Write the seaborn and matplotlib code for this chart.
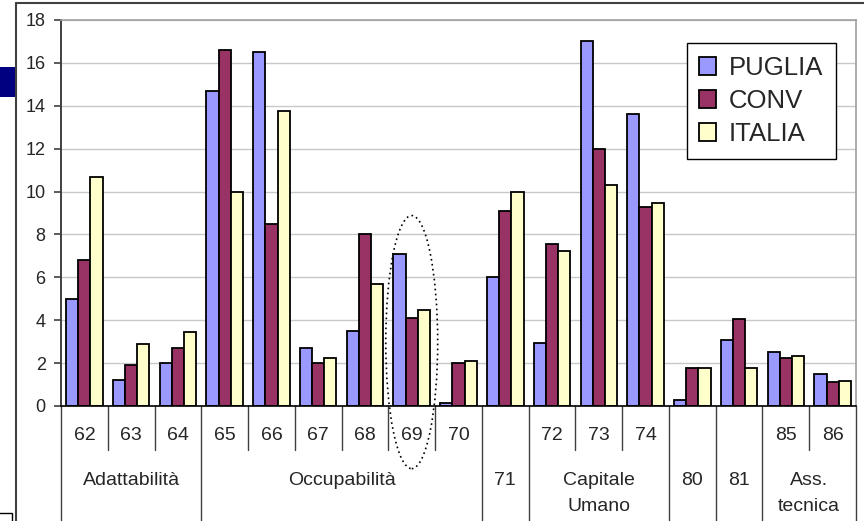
import pandas as pd
import numpy as np
import matplotlib.pyplot as plt
import seaborn as sns
from matplotlib.patches import Ellipse, Rectangle, Patch
from matplotlib.lines import Line2D

sns.set_style("white")
plt.rcParams['font.family'] = ['Liberation Sans', 'DejaVu Sans']

# Data
codes = ["62", "63", "64", "65", "66", "67", "68", "69", "70",
         "71", "72", "73", "74", "80", "81", "85", "86"]
puglia = [5.0, 1.2, 2.0, 14.7, 16.5, 2.7, 3.5, 7.1, 0.15,
          6.0, 2.95, 17.0, 13.6, 0.3, 3.1, 2.5, 1.5]
conv = [6.8, 1.9, 2.7, 16.6, 8.5, 2.0, 8.0, 4.1, 2.0,
        9.1, 7.55, 12.0, 9.3, 1.75, 4.05, 2.25, 1.1]
italia = [10.7, 2.9, 3.45, 10.0, 13.75, 2.25, 5.7, 4.5, 2.1,
          10.0, 7.25, 10.3, 9.45, 1.75, 1.75, 2.35, 1.15]
series_names = ["PUGLIA", "CONV", "ITALIA"]
groups = ["Adattabilità", "Occupabilità", "71", "Capitale\nUmano", "80", "81", "Ass.\ntecnica"]
group_sizes = [3, 6, 1, 3, 1, 1, 2]

palette = ["#9999FF", "#993366", "#FFFFCC"]

df = pd.DataFrame({
    "code": codes * 3,
    "value": puglia + conv + italia,
    "serie": np.repeat(series_names, len(codes)),
})

fig = plt.figure(figsize=(8.64, 5.21), dpi=100)
ax = fig.add_axes([61 / 864, 1 - 406 / 521, 795 / 864, 386 / 521])

sns.barplot(data=df, x="code", y="value", hue="serie", hue_order=series_names,
            order=codes, palette=palette, saturation=1, width=0.78,
            edgecolor="black", linewidth=1.3, errorbar=None, legend=False, ax=ax)

ax.set_xlim(-0.5, len(codes) - 0.5)
ax.set_ylim(0, 18)
ax.set_yticks(range(0, 19, 2))
ax.yaxis.grid(True, color="#C8C8C8", lw=1)
ax.set_axisbelow(True)
ax.set_xticks([])
ax.set_xlabel("")
ax.set_ylabel("")
ax.tick_params(axis='y', left=True, length=5, direction='out', color="#404040",
               width=1.2, labelsize=13, pad=6)
for side in ["top", "right"]:
    ax.spines[side].set_color("#A0A0A0")
    ax.spines[side].set_linewidth(1.2)
ax.spines["left"].set_color("#404040")
ax.spines["left"].set_linewidth(1.4)
ax.spines["bottom"].set_color("black")
ax.spines["bottom"].set_linewidth(1.2)

# Two-level category axis
trans = ax.get_xaxis_transform()
start = 0
for name, size in zip(groups, group_sizes):
    end = start + size
    ax.plot([start - 0.5, start - 0.5], [0, -0.298], transform=trans, color="#404040",
            lw=1, clip_on=False)
    for k in range(start, end - 1):
        ax.plot([k + 0.5, k + 0.5], [0, -0.114], transform=trans, color="#404040",
                lw=1, clip_on=False)
    if size > 1:
        for k in range(start, end):
            ax.text(k, -0.076, codes[k], transform=trans, ha="center", va="center",
                    fontsize=14)
    ax.text((start + end - 1) / 2, -0.17, name, transform=trans, ha="center", va="top",
            fontsize=14, linespacing=1.7)
    start = end
ax.plot([start - 0.5, start - 0.5], [0, -0.298], transform=trans, color="#404040",
        lw=1, clip_on=False)

# dotted ellipse around 69
ax.add_patch(Ellipse((codes.index("69"), 2.98), width=1.11, height=11.8, fill=False,
                     ec="black", lw=1.2, ls=(0, (1, 2)), clip_on=False))

handles = [Patch(facecolor=c, edgecolor="black", lw=1.3, label=n)
           for c, n in zip(palette, series_names)]
leg = ax.legend(handles=handles, loc="upper right", bbox_to_anchor=(0.975, 0.940),
                fontsize=18.5, frameon=True, fancybox=False, edgecolor="black",
                framealpha=1, handlelength=0.65, handleheight=0.65, handletextpad=0.5,
                labelspacing=0.35, borderpad=0.5, borderaxespad=0)
leg.get_frame().set_linewidth(1)

# slide frame bits around the chart
fig.add_artist(Line2D([16 / 864, 1], [1 - 3 / 521] * 2, transform=fig.transFigure,
                      color="#404040", lw=1.5))
fig.add_artist(Line2D([16 / 864] * 2, [0, 1 - 3 / 521], transform=fig.transFigure,
                      color="#404040", lw=1.5))
fig.add_artist(Rectangle((0, 1 - 97 / 521), 15 / 864, 30 / 521, transform=fig.transFigure,
                         facecolor="#000080", edgecolor="none"))
fig.add_artist(Rectangle((-0.01, -0.01), 21 / 864, 13 / 521, transform=fig.transFigure,
                         fill=False, edgecolor="black", lw=1))

fig.savefig("out.png", dpi=100)
